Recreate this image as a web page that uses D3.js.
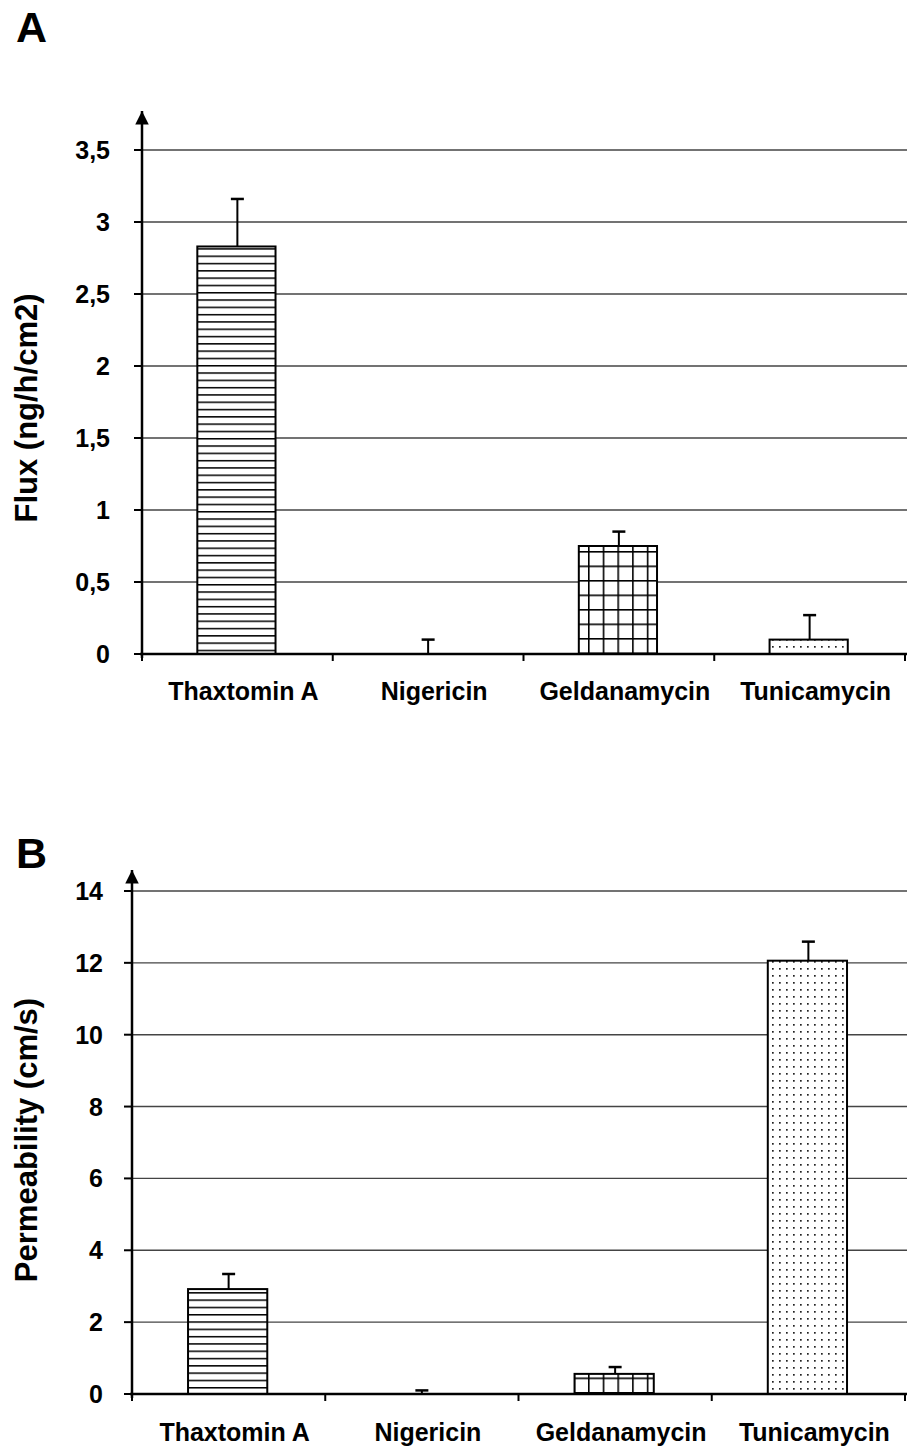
<!DOCTYPE html>
<html>
<head>
<meta charset="utf-8">
<script src="https://cdn.jsdelivr.net/npm/d3@7"></script>
<style>
body { margin: 0; background: #fff; }
text { font-family: "Liberation Sans", Arial, sans-serif; font-weight: bold; fill: #000; }
</style>
</head>
<body>
<script>
var categories = ["Thaxtomin A", "Nigericin", "Geldanamycin", "Tunicamycin"];
var fluxValues = [2.83, 0, 0.75, 0.10];
var fluxErrors = [0.33, 0.10, 0.10, 0.17];
var fluxTicks = [0, 0.5, 1, 1.5, 2, 2.5, 3, 3.5];
var permValues = [2.92, 0, 0.56, 12.06];
var permErrors = [0.42, 0.10, 0.19, 0.53];
var permTicks = [0, 2, 4, 6, 8, 10, 12, 14];
var patterns = ["hlines", "none", "grid", "dots"];

var width = 907, height = 1450;

var svg = d3.select("body")
            .append("svg")
            .attr("width", width)
            .attr("height", height);

var defs = svg.append("defs");

var p = defs.append("pattern").attr("id", "hlines")
            .attr("patternUnits", "userSpaceOnUse").attr("width", 10).attr("height", 7.3);
p.append("rect").attr("width", 10).attr("height", 7.3).attr("fill", "#fff");
p.append("line").attr("x1", 0).attr("x2", 10).attr("y1", 0.7).attr("y2", 0.7)
 .attr("stroke", "#000").attr("stroke-width", 1.6);

p = defs.append("pattern").attr("id", "grid")
        .attr("patternUnits", "userSpaceOnUse").attr("width", 14.7).attr("height", 14.5);
p.append("rect").attr("width", 14.7).attr("height", 14.5).attr("fill", "#fff");
p.append("line").attr("x1", 0).attr("x2", 14.7).attr("y1", 0.8).attr("y2", 0.8)
 .attr("stroke", "#000").attr("stroke-width", 1.6);
p.append("line").attr("x1", 0.8).attr("x2", 0.8).attr("y1", 0).attr("y2", 14.5)
 .attr("stroke", "#000").attr("stroke-width", 1.6);

p = defs.append("pattern").attr("id", "dots")
        .attr("patternUnits", "userSpaceOnUse").attr("width", 7).attr("height", 7);
p.append("rect").attr("width", 7).attr("height", 7).attr("fill", "#fff");
p.append("rect").attr("x", 2).attr("y", 2).attr("width", 1.7).attr("height", 1.7).attr("fill", "#222");

defs.append("marker").attr("id", "arrow")
    .attr("viewBox", "0 0 10 10").attr("refX", 5).attr("refY", 0)
    .attr("markerWidth", 5.6).attr("markerHeight", 5.4)
    .attr("markerUnits", "strokeWidth").attr("orient", "0")
    .append("path").attr("d", "M0,10 L5,0 L10,10 Z").attr("fill", "#000");

var fmt = function(d) { return String(d).replace(".", ","); };

function drawPanel(o) {
  var x = d3.scaleBand().domain(categories).range([o.left, o.right]).paddingInner(0).paddingOuter(0);
  var y = d3.scaleLinear().domain([0, o.max]).range([o.zero, o.zero - o.max * o.pxPerUnit]);
  var g = svg.append("g");

  // panel letter
  g.append("text").attr("x", 16).attr("y", o.letterY).attr("font-size", 43).text(o.letter);

  // gridlines
  g.selectAll(".grid").data(o.ticks.slice(1)).enter().append("line")
   .attr("x1", o.left).attr("x2", width)
   .attr("y1", function(d) { return y(d); }).attr("y2", function(d) { return y(d); })
   .attr("stroke", "#444").attr("stroke-width", 1.4);

  // y ticks
  g.selectAll(".yt").data(o.ticks).enter().append("line")
   .attr("x1", o.left - 8).attr("x2", o.left)
   .attr("y1", function(d) { return y(d); }).attr("y2", function(d) { return y(d); })
   .attr("stroke", "#000").attr("stroke-width", 2);
  g.selectAll(".yl").data(o.ticks).enter().append("text")
   .attr("x", o.left - o.labelGap).attr("y", function(d) { return y(d) + 9; })
   .attr("text-anchor", "end").attr("font-size", 25)
   .text(fmt);

  // bars
  g.selectAll(".bar").data(categories).enter().append("rect")
   .filter(function(d, i) { return o.values[i] > 0; })
   .attr("x", function(d) { return x(d) + x.bandwidth() * 0.29; })
   .attr("width", x.bandwidth() * 0.41)
   .attr("y", function(d) { return y(o.values[categories.indexOf(d)]); })
   .attr("height", function(d) { return o.zero - y(o.values[categories.indexOf(d)]); })
   .attr("fill", function(d) { return "url(#" + patterns[categories.indexOf(d)] + ")"; })
   .attr("stroke", "#000").attr("stroke-width", 2);

  // error bars
  categories.forEach(function(c, i) {
    var cx = x(c) + x.bandwidth() / 2;
    var top = y(o.values[i] + o.errors[i]);
    g.append("line").attr("x1", cx).attr("x2", cx)
     .attr("y1", y(o.values[i])).attr("y2", top)
     .attr("stroke", "#000").attr("stroke-width", 2);
    g.append("line").attr("x1", cx - 6.5).attr("x2", cx + 6.5)
     .attr("y1", top).attr("y2", top)
     .attr("stroke", "#000").attr("stroke-width", 2.5);
  });

  // x axis
  g.append("line").attr("x1", o.left - 2).attr("x2", width).attr("y1", o.zero).attr("y2", o.zero)
   .attr("stroke", "#000").attr("stroke-width", 2.5);
  var bounds = categories.map(function(c) { return x(c); }).concat([o.right]);
  g.selectAll(".xt").data(bounds).enter().append("line")
   .attr("x1", function(d) { return d; }).attr("x2", function(d) { return d; })
   .attr("y1", o.zero).attr("y2", o.zero + 7)
   .attr("stroke", "#000").attr("stroke-width", 2);
  g.selectAll(".xl").data(categories).enter().append("text")
   .attr("x", function(d) { return x(d) + x.bandwidth() / 2 + 6; })
   .attr("y", o.zero + o.catGap)
   .attr("text-anchor", "middle").attr("font-size", 25)
   .text(function(d) { return d; });

  // y axis with arrow
  g.append("line").attr("x1", o.left).attr("x2", o.left)
   .attr("y1", o.zero + 4).attr("y2", o.arrowY + 8)
   .attr("stroke", "#000").attr("stroke-width", 2.5)
   .attr("marker-end", "url(#arrow)");

  // y label
  g.append("text")
   .attr("transform", "translate(" + 37 + "," + o.labelY + ") rotate(-90)")
   .attr("text-anchor", "middle").attr("font-size", 31)
   .text(o.title);
}

drawPanel({
  letter: "A", letterY: 42,
  values: fluxValues, errors: fluxErrors, ticks: fluxTicks, max: 3.5,
  left: 142, right: 905, zero: 654, pxPerUnit: 144,
  arrowY: 103, labelGap: 32, catGap: 46, labelY: 408,
  title: "Flux (ng/h/cm2)"
});

drawPanel({
  letter: "B", letterY: 868,
  values: permValues, errors: permErrors, ticks: permTicks, max: 14,
  left: 132, right: 905, zero: 1394, pxPerUnit: 35.93,
  arrowY: 862, labelGap: 29, catGap: 47, labelY: 1140,
  title: "Permeability (cm/s)"
});
</script>
</body>
</html>
